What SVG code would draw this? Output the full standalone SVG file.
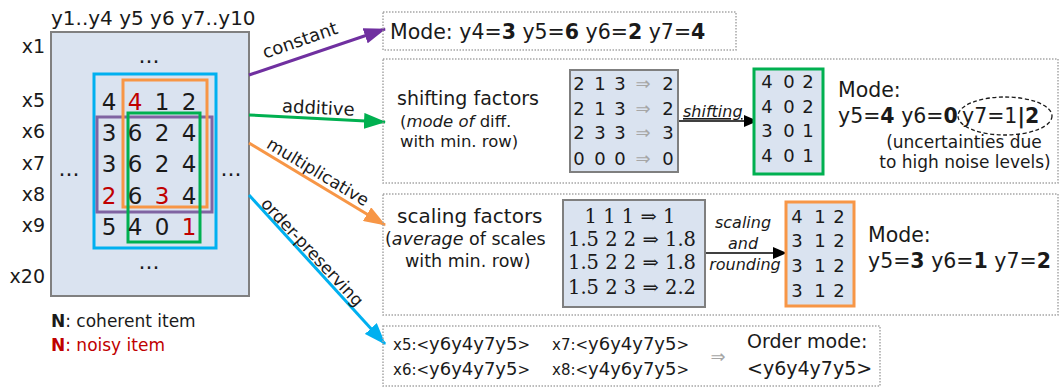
<svg xmlns="http://www.w3.org/2000/svg" width="1060" height="387" viewBox="0 0 1060 387">
<style>
text{font-family:"DejaVu Sans","Verdana",sans-serif;fill:#1a1a1a}
.red{fill:#c00000}
.b{font-weight:bold}
.it{font-style:italic}
.gray{fill:#a6a6a6}
.mat{fill:#dae3f0;stroke:#7f7f7f;stroke-width:2}
.dot{fill:none;stroke:#a6a6a6;stroke-width:1.5;stroke-dasharray:1.5 1.5}
.mid{text-anchor:middle}
.lab{font-size:19px;text-anchor:end}
.dg{font-size:23px;text-anchor:middle}
.sd{font-size:18px;text-anchor:middle}
.serif{font-family:"DejaVu Serif","Cambria Math",serif;font-size:19.5px;text-anchor:middle}
</style>
<defs>
<marker id="aP" markerUnits="userSpaceOnUse" markerWidth="22" markerHeight="16" refX="21" refY="8" orient="auto"><path d="M0,0 L22,8 L0,16 z" fill="#7030a0"/></marker>
<marker id="aG" markerUnits="userSpaceOnUse" markerWidth="22" markerHeight="16" refX="21" refY="8" orient="auto"><path d="M0,0 L22,8 L0,16 z" fill="#00b050"/></marker>
<marker id="aO" markerUnits="userSpaceOnUse" markerWidth="22" markerHeight="16" refX="21" refY="8" orient="auto"><path d="M0,0 L22,8 L0,16 z" fill="#f79646"/></marker>
<marker id="aB" markerUnits="userSpaceOnUse" markerWidth="22" markerHeight="16" refX="21" refY="8" orient="auto"><path d="M0,0 L22,8 L0,16 z" fill="#00b0f0"/></marker>
<marker id="aK" markerUnits="userSpaceOnUse" markerWidth="14" markerHeight="12" refX="13" refY="6" orient="auto"><path d="M0,0 L14,6 L0,12 z" fill="#000"/></marker>
</defs>

<g id="data-matrix">
<text x="51" y="25" font-size="20">y1..y4 y5 y6 y7..y10</text>
<rect x="51" y="32" width="198" height="264" fill="#dae3f0" stroke="#808080" stroke-width="2"/>
<text class="lab" x="45" y="53">x1</text>
<text class="lab" x="45" y="107">x5</text>
<text class="lab" x="45" y="138">x6</text>
<text class="lab" x="45" y="170">x7</text>
<text class="lab" x="45" y="201">x8</text>
<text class="lab" x="45" y="232">x9</text>
<text class="lab" x="45" y="283">x20</text>
<text class="mid" x="149" y="63" font-size="22">...</text>
<text class="mid" x="149" y="269" font-size="22">...</text>
<text class="mid" x="69" y="176" font-size="22">...</text>
<text class="mid" x="231" y="176" font-size="22">...</text>
<rect x="94" y="74" width="122" height="174" fill="none" stroke="#00b0f0" stroke-width="3"/>
<rect x="97" y="117" width="115" height="95" fill="none" stroke="#8064a2" stroke-width="3"/>
<rect x="123" y="80" width="84" height="127" fill="none" stroke="#f79646" stroke-width="3"/>
<rect x="128" y="113" width="72" height="129" fill="none" stroke="#00b050" stroke-width="3"/>
<text class="dg" y="110"><tspan x="109">4</tspan><tspan x="135" class="red">4</tspan><tspan x="162">1</tspan><tspan x="189">2</tspan></text>
<text class="dg" y="141"><tspan x="109">3</tspan><tspan x="135">6</tspan><tspan x="162">2</tspan><tspan x="189">4</tspan></text>
<text class="dg" y="172"><tspan x="109">3</tspan><tspan x="135">6</tspan><tspan x="162">2</tspan><tspan x="189">4</tspan></text>
<text class="dg" y="204"><tspan x="109" class="red">2</tspan><tspan x="135">6</tspan><tspan x="162" class="red">3</tspan><tspan x="189">4</tspan></text>
<text class="dg" y="235"><tspan x="109">5</tspan><tspan x="135">4</tspan><tspan x="162">0</tspan><tspan x="189" class="red">1</tspan></text>
</g>

<g id="legend">
<text x="51" y="327" font-size="17"><tspan class="b">N</tspan>: coherent item</text>
<text x="51" y="351" font-size="17" class="red"><tspan class="b">N</tspan>: noisy item</text>
</g>

<g id="connectors">
<path d="M249,75 L385,29" stroke="#7030a0" stroke-width="3" fill="none" marker-end="url(#aP)"/>
<path d="M249,115 L385,122" stroke="#00b050" stroke-width="3" fill="none" marker-end="url(#aG)"/>
<path d="M249,143 L385,225" stroke="#f79646" stroke-width="3" fill="none" marker-end="url(#aO)"/>
<path d="M249,195 L385,344" stroke="#00b0f0" stroke-width="3" fill="none" marker-end="url(#aB)"/>
<text class="mid" font-size="18" transform="translate(302,46) rotate(-19)">constant</text>
<text class="mid" font-size="18" transform="translate(318,114) rotate(3)">additive</text>
<text class="mid" font-size="17" transform="translate(315,177) rotate(31)">multiplicative</text>
<text class="mid" font-size="17" transform="translate(308,256) rotate(47)">order-preserving</text>
<path d="M678,121 L757,121" stroke="#000" stroke-width="1.5" fill="none" marker-end="url(#aK)"/>
<text class="it" x="683" y="117" font-size="16" text-decoration="underline">shifting</text>
<path d="M705,253 L786,253" stroke="#000" stroke-width="1.5" fill="none" marker-end="url(#aK)"/>
<text class="it mid" x="743" y="228" font-size="16">scaling</text>
<text class="it mid" x="743" y="249" font-size="16">and</text>
<text class="it mid" x="745" y="270" font-size="16">rounding</text>
</g>

<g id="constant-box">
<rect class="dot" x="383" y="12" width="353" height="38"/>
<text x="390" y="39" font-size="20.5">Mode: y4=<tspan class="b">3</tspan> y5=<tspan class="b">6</tspan> y6=<tspan class="b">2</tspan> y7=<tspan class="b">4</tspan></text>
</g>

<g id="additive-box">
<rect class="dot" x="383" y="59" width="675" height="124"/>
<text x="397" y="105" font-size="19">shifting factors</text>
<text x="400" y="127" font-size="16.5">(<tspan class="it">mode of</tspan> diff.</text>
<text x="400" y="147" font-size="16.5">with min. row)</text>
<rect class="mat" x="570" y="70" width="108" height="102"/>
<text class="sd" y="90"><tspan x="579">2</tspan><tspan x="600">1</tspan><tspan x="620">3</tspan><tspan x="643" class="gray">⇒</tspan><tspan x="668">2</tspan></text>
<text class="sd" y="115"><tspan x="579">2</tspan><tspan x="600">1</tspan><tspan x="620">3</tspan><tspan x="643" class="gray">⇒</tspan><tspan x="668">2</tspan></text>
<text class="sd" y="139"><tspan x="579">2</tspan><tspan x="600">3</tspan><tspan x="620">3</tspan><tspan x="643" class="gray">⇒</tspan><tspan x="668">3</tspan></text>
<text class="sd" y="165"><tspan x="579">0</tspan><tspan x="600">0</tspan><tspan x="620">0</tspan><tspan x="643" class="gray">⇒</tspan><tspan x="668">0</tspan></text>
<rect x="754" y="69" width="69" height="105" fill="#dae3f0" stroke="#00b050" stroke-width="3"/>
<text class="sd" font-size="17" y="88"><tspan x="767">4</tspan><tspan x="789">0</tspan><tspan x="808">2</tspan></text>
<text class="sd" font-size="17" y="113"><tspan x="767">4</tspan><tspan x="789">0</tspan><tspan x="808">2</tspan></text>
<text class="sd" font-size="17" y="137"><tspan x="767">3</tspan><tspan x="789">0</tspan><tspan x="808">1</tspan></text>
<text class="sd" font-size="17" y="162"><tspan x="767">4</tspan><tspan x="789">0</tspan><tspan x="808">1</tspan></text>
<text x="838" y="97" font-size="20.5">Mode:</text>
<text x="838" y="123" font-size="20.5">y5=<tspan class="b">4</tspan> y6=<tspan class="b">0</tspan></text>
<ellipse cx="1005" cy="116" rx="47" ry="19" fill="none" stroke="#1a1a1a" stroke-width="1.3" stroke-dasharray="4 2.5"/>
<text x="962" y="123" font-size="20.5">y7=1<tspan class="b">|2</tspan></text>
<text x="964" y="148" font-size="17" class="mid">(uncertainties due</text>
<text x="965" y="168" font-size="17" class="mid">to high noise levels)</text>
</g>

<g id="multiplicative-box">
<rect class="dot" x="383" y="194" width="675" height="121"/>
<text x="397" y="223" font-size="20">scaling factors</text>
<text x="385" y="245" font-size="17.5">(<tspan class="it">average</tspan> of scales</text>
<text x="405" y="267" font-size="17.5">with min. row)</text>
<rect class="mat" x="563" y="200" width="142" height="107"/>
<text class="serif" x="630" y="223">1 1 1 ⇒ 1</text>
<text class="serif" x="632" y="246">1.5 2 2 ⇒ 1.8</text>
<text class="serif" x="632" y="269">1.5 2 2 ⇒ 1.8</text>
<text class="serif" x="632" y="294">1.5 2 3 ⇒ 2.2</text>
<rect x="786" y="202" width="68" height="104" fill="#dae3f0" stroke="#f79646" stroke-width="3"/>
<text class="sd" y="223"><tspan x="797">4</tspan><tspan x="820">1</tspan><tspan x="839">2</tspan></text>
<text class="sd" y="247"><tspan x="797">3</tspan><tspan x="820">1</tspan><tspan x="839">2</tspan></text>
<text class="sd" y="272"><tspan x="797">3</tspan><tspan x="820">1</tspan><tspan x="839">2</tspan></text>
<text class="sd" y="297"><tspan x="797">3</tspan><tspan x="820">1</tspan><tspan x="839">2</tspan></text>
<text x="868" y="242" font-size="20.5">Mode:</text>
<text x="868" y="268" font-size="20.5">y5=<tspan class="b">3</tspan> y6=<tspan class="b">1</tspan> y7=<tspan class="b">2</tspan></text>
</g>

<g id="order-box">
<rect class="dot" x="383" y="326" width="497" height="60"/>
<text x="393" y="350" font-size="15">x5:&lt;<tspan font-size="18">y6y4y7y5</tspan>&gt;</text>
<text x="393" y="375" font-size="15">x6:&lt;<tspan font-size="18">y6y4y7y5</tspan>&gt;</text>
<text x="552" y="350" font-size="15">x7:&lt;<tspan font-size="18">y6y4y7y5</tspan>&gt;</text>
<text x="552" y="375" font-size="15">x8:&lt;<tspan font-size="18">y4y6y7y5</tspan>&gt;</text>
<text x="718" y="363" font-size="18" class="mid gray">⇒</text>
<text x="747" y="348" font-size="19">Order mode:</text>
<text x="747" y="375" font-size="19">&lt;y6y4y7y5&gt;</text>
</g>
</svg>
